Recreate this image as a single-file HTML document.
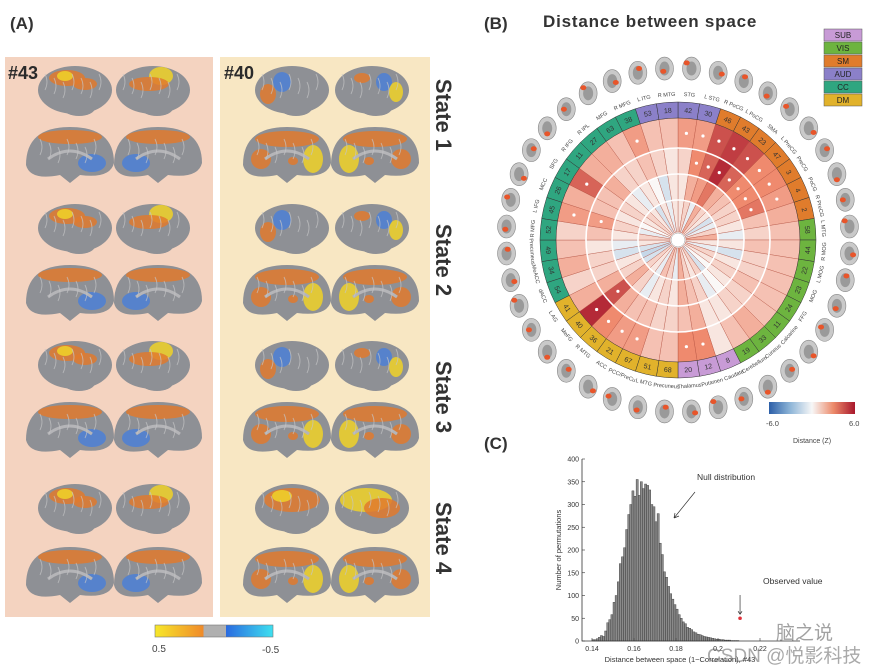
<!DOCTYPE html>
<html><head><meta charset="utf-8"><style>
html,body{margin:0;padding:0;background:#fff;}
svg{display:block;font-family:"Liberation Sans",sans-serif;}
</style></head><body>
<svg id="fig" width="876" height="670" viewBox="0 0 876 670" xmlns="http://www.w3.org/2000/svg">
<g id="panelA">
  <text x="10" y="29" font-size="17" font-weight="bold" fill="#333">(A)</text>
  <rect x="5" y="57" width="208" height="560" fill="#f4d3c0"/>
  <rect x="220" y="57" width="210" height="560" fill="#f8e7c3"/>
  <text x="8" y="79" font-size="18" font-weight="bold" fill="#2a2a2a">#43</text>
  <text x="224" y="79" font-size="18" font-weight="bold" fill="#2a2a2a">#40</text>
  <g id="brains"></g>
  <text transform="translate(436,115) rotate(90)" text-anchor="middle" font-size="22" font-weight="bold" fill="#333">State 1</text>
  <text transform="translate(436,260) rotate(90)" text-anchor="middle" font-size="22" font-weight="bold" fill="#333">State 2</text>
  <text transform="translate(436,397) rotate(90)" text-anchor="middle" font-size="22" font-weight="bold" fill="#333">State 3</text>
  <text transform="translate(436,538) rotate(90)" text-anchor="middle" font-size="22" font-weight="bold" fill="#333">State 4</text>
  <defs>
    <linearGradient id="gA" x1="0" x2="1">
      <stop offset="0" stop-color="#f7e82a"/><stop offset="0.41" stop-color="#f08a2a"/><stop offset="0.41" stop-color="#e4562a"/><stop offset="0.41" stop-color="#b0b0b0"/><stop offset="0.6" stop-color="#b0b0b0"/><stop offset="0.6" stop-color="#2a6ae0"/><stop offset="1" stop-color="#3ee0f0"/>
    </linearGradient>
    <linearGradient id="gB" x1="0" x2="1">
      <stop offset="0" stop-color="#2c5fa8"/><stop offset="0.25" stop-color="#8fb6d8"/><stop offset="0.5" stop-color="#f7f7f7"/><stop offset="0.75" stop-color="#ec8a6a"/><stop offset="1" stop-color="#a8172c"/>
    </linearGradient>
  </defs>
  <rect x="155" y="625" width="118" height="12" fill="url(#gA)" stroke="#777" stroke-width="0.6"/>
  <text x="152" y="652" font-size="10" fill="#444">0.5</text>
  <text x="262" y="653" font-size="10" fill="#444">-0.5</text>
</g>

<g id="panelB">
  <text x="484" y="29" font-size="17" font-weight="bold" fill="#333">(B)</text>
  <text x="543" y="27" font-size="17" font-weight="bold" fill="#333" letter-spacing="0.8">Distance between space</text>
  <g id="legend"></g>
  <g id="thumbs"></g>
  <g id="ring"></g>
  <rect x="769" y="402" width="86" height="12" fill="url(#gB)"/>
  <text x="766" y="426" font-size="7.5" fill="#444">-6.0</text>
  <text x="849" y="426" font-size="7.5" fill="#444">6.0</text>
  <text x="793" y="443" font-size="7" fill="#444">Distance (Z)</text>
</g>

<g id="panelC">
  <text x="484" y="449" font-size="17" font-weight="bold" fill="#333">(C)</text>
  <g id="hist"></g>
</g>
<text x="776" y="639" font-size="19" fill="#555" opacity="0.55" font-family="'Liberation Sans','Noto Sans CJK SC',sans-serif">脑之说</text>
<text x="707" y="662" font-size="19" fill="#555" opacity="0.5" font-family="'Liberation Sans','Noto Sans CJK SC',sans-serif">CSDN @悦影科技</text>
</svg>
<script>
const NS="http://www.w3.org/2000/svg";
function mk(tag,attrs,parent){const e=document.createElementNS(NS,tag);for(const k in attrs)e.setAttribute(k,attrs[k]);parent.appendChild(e);return e;}

// ===== Panel B data =====
const segIds=[42,30,46,43,23,47,3,4,2,58,44,22,23,24,11,33,19,8,12,20,68,51,67,21,36,40,41,54,34,49,52,45,26,17,11,27,63,38,53,18];
const segNet=["AUD","AUD","SM","SM","SM","SM","SM","SM","SM","VIS","VIS","VIS","VIS","VIS","VIS","VIS","VIS","SUB","SUB","SUB","DM","DM","DM","DM","DM","DM","DM","CC","CC","CC","CC","CC","CC","CC","CC","CC","CC","CC","AUD","AUD"];
const segNames=["STG","L STG","R PoCG","L PoCG","SMA","L PreCG","PreCG","PoCG","R PreCG","L MTG","R MOG","L MOG","MOG","FFG","Calcarine","Cuneus","Cerebellum","Caudate","Putamen","Thalamus","Precuneus","L MTG","PCC/PreCu","ACC","R MTG","MeFG","L AG","dACC","MeACC","Precuneus","R MFG","L IFG","MCC","SFG","R IFG","R IPL","MFG","R MFG","L ITG","R MTG"];
const ring1=[2.5,2.5,4.5,5,4.5,3,3,2.5,2,1.5,1.5,1.5,1.5,1.5,1.5,2,1.5,0.5,3,3,1.5,1.5,2.5,2.5,3,5.5,2,1,2,1.5,1,2.5,2,4,2,2,1.5,2.5,1.5,1.5];
const ring2=[1,3,4,5.5,4,3,3,3.5,1.5,1,1.5,1,1,1.5,1,1,0.5,0.5,2,1.5,1,1,1.5,1.5,2,4.5,2,1,1,0.5,1.5,2.5,1.5,1.5,2,1,1,1.5,1,0.5];
const ring3=[0.5,2,2.5,3.5,2,1.5,1,1,0.5,-0.5,0.5,-1,0.5,1,0.5,0,-0.5,1,1.5,2,0.5,1,0.5,-0.5,1,2,1,0.5,-1,-0.5,0.5,1,0.5,1,0.5,-0.5,0.5,0,-1,0.5];
const ring4=[0.5,1,-0.5,2,1,0.5,-1,-0.5,1,2,0.5,-0.5,1,0.5,0,-1,1,0.5,1,2,-0.5,1,1.5,-0.5,0.5,1,-1,-1.5,-1,0.5,1,-0.5,0,0.5,1,0.5,-1,0.5,-0.5,0.5];
const netColors={SUB:"#c89bd6",VIS:"#6db43f",SM:"#e07c2c",AUD:"#8b80c9",CC:"#2fa680",DM:"#e1b22b"};
const legendOrder=["SUB","VIS","SM","AUD","CC","DM"];

const CX=678,CY=240;
function pt(r,deg){const a=deg*Math.PI/180;return [CX+r*Math.sin(a),CY-r*Math.cos(a)];}
function wedge(r0,r1,a0,a1){const p1=pt(r1,a0),p2=pt(r1,a1),p3=pt(r0,a1),p4=pt(r0,a0);
 return `M${p1[0]},${p1[1]}A${r1},${r1} 0 0 1 ${p2[0]},${p2[1]}L${p3[0]},${p3[1]}A${r0},${r0} 0 0 0 ${p4[0]},${p4[1]}Z`;}
function heat(v){const t=Math.max(-1,Math.min(1,v/6));
 const lerp=(a,b,u)=>a.map((x,i)=>Math.round(x+(b[i]-x)*u));
 let c; if(t>=0){c=t<0.5?lerp([250,248,247],[239,138,110],t/0.5):lerp([239,138,110],[168,23,44],(t-0.5)/0.5);}
 else{const u=-t;c=u<0.5?lerp([250,248,247],[143,182,216],u/0.5):lerp([143,182,216],[44,95,168],(u-0.5)/0.5);}
 return `rgb(${c[0]},${c[1]},${c[2]})`;}

const ringG=document.getElementById('ring');
const N=segIds.length, step=360/N;
const rings=[[ring1,92,122],[ring2,66,92],[ring3,40,66],[ring4,8,40]];
rings.forEach((rg,ri)=>{
  rg[0].forEach((v,i)=>{
    const p=mk('path',{d:wedge(rg[1],rg[2],i*step,(i+1)*step),fill:heat(v),stroke:"#b04a3a","stroke-width":0.35},ringG);
    
    
    if(ri<2 && v>=2.5){const c=pt((rg[1]+rg[2])/2,(i+0.5)*step);
      const s=mk('circle',{cx:c[0],cy:c[1],r:1.6,fill:"#fff"},ringG);
      
      }
  });
});
[92,66,40].forEach(r=>{const c=mk('circle',{cx:CX,cy:CY,r:r,fill:"none",stroke:"#fff","stroke-width":1.6},ringG);
 
 });
const hole=mk('circle',{cx:CX,cy:CY,r:7,fill:"#fff",stroke:"#999","stroke-width":0.5},ringG);


segIds.forEach((id,i)=>{
  const p=mk('path',{d:wedge(122,138,i*step,(i+1)*step),fill:netColors[segNet[i]],stroke:"#333","stroke-width":0.5},ringG);
  
  
  const mid=(i+0.5)*step; const c=pt(130,mid); let rot=mid; if(mid>90&&mid<270)rot=mid+180;
  const t=mk('text',{x:c[0],y:c[1]+2.5,"text-anchor":"middle","font-size":7,fill:"#333",transform:`rotate(${rot} ${c[0]} ${c[1]})`},ringG);
  t.textContent=id;
  
  
  const c2=pt(146,mid);
  const t2=mk('text',{x:c2[0],y:c2[1]+2,"text-anchor":"middle","font-size":5.5,fill:"#444",transform:`rotate(${rot} ${c2[0]} ${c2[1]})`},ringG);
  t2.textContent=segNames[i];
  
  
});
// thumbnails
const thG=document.getElementById('thumbs');
segIds.forEach((id,i)=>{
  const mid=(i+0.5)*step; const c=pt(172,mid);
  const g=mk('g',{},thG);
  
  
  mk('ellipse',{cx:c[0],cy:c[1],rx:9,ry:11.5,fill:"#c9c9c9",stroke:"#888","stroke-width":0.6},g);
  mk('ellipse',{cx:c[0],cy:c[1],rx:5,ry:7,fill:"#9a9a9a"},g);
  const dx=((i*7)%9-4)*1.2, dy=((i*5)%9-4)*1.4;
  mk('ellipse',{cx:c[0]+dx,cy:c[1]+dy,rx:3,ry:2.5,fill:"#e8552a"},g);
});
// legend
const lg=document.getElementById('legend');
legendOrder.forEach((n,i)=>{
  const y=29+i*13;
  const r=mk('rect',{x:824,y:y,width:38,height:12,fill:netColors[n],stroke:"#555","stroke-width":0.5},lg);
  
  
  const t=mk('text',{x:843,y:y+9,"text-anchor":"middle","font-size":8,fill:"#222"},lg);
  t.textContent=n;
  
  
});

// ===== Panel C data =====
const binStart=0.140, binWidth=0.001;
const counts=[3,3,5,8,12,10,22,40,47,58,85,100,130,170,185,205,245,278,300,330,318,355,320,350,335,345,342,332,300,295,262,280,215,190,152,140,120,104,92,80,70,58,50,42,38,30,28,25,20,18,15,14,12,10,9,8,7,6,5,4,4,3,3,2,2,2,1,1,1,1];
const xTicks=[0.14,0.16,0.18,0.2,0.22];
const xTickLabels=["0.14","0.16","0.18","0.2","0.22"];
const yTicks=[0,50,100,150,200,250,300,350,400];
const observedValue=0.2105, observedCount=50;

const hg=document.getElementById('hist');
const X=v=>592+(v-0.14)*2100;
const Y=v=>641-v*0.455;
counts.forEach((c,i)=>{
  const x0=X(binStart+i*binWidth);
  const r=mk('rect',{x:x0,y:Y(c),width:binWidth*2100,height:641-Y(c),fill:"#8a8a8a",stroke:"#333","stroke-width":0.4},hg);
  
  
});
const ax=mk('path',{d:`M582,${Y(400)}V641H800`,fill:"none",stroke:"#333","stroke-width":0.8},hg);


yTicks.forEach(v=>{
  mk('line',{x1:582,x2:585,y1:Y(v),y2:Y(v),stroke:"#333","stroke-width":0.6},hg);
  const t=mk('text',{x:579,y:Y(v)+2.5,"text-anchor":"end","font-size":7,fill:"#333"},hg);
  t.textContent=v;
  
  
});
xTicks.forEach((v,i)=>{
  mk('line',{x1:X(v),x2:X(v),y1:641,y2:638,stroke:"#333","stroke-width":0.6},hg);
  const t=mk('text',{x:X(v),y:651,"text-anchor":"middle","font-size":7,fill:"#333"},hg);
  t.textContent=xTickLabels[i];
  
  
});
const yl=mk('text',{transform:"translate(561,550) rotate(-90)","text-anchor":"middle","font-size":7.5,fill:"#333"},hg);
yl.textContent="Number of permutations";


const xl=mk('text',{x:680,y:662,"text-anchor":"middle","font-size":7.5,fill:"#333"},hg);
xl.textContent="Distance between space (1−Correlation), #43";


const nd=mk('text',{x:697,y:480,"font-size":8.5,fill:"#333"},hg);
nd.textContent="Null distribution";


mk('path',{d:"M695,492L674,518M674,518l1,-5M674,518l5,-2",stroke:"#333","stroke-width":0.7,fill:"none"},hg);
const ov=mk('text',{x:763,y:584,"font-size":8.5,fill:"#333"},hg);
ov.textContent="Observed value";


mk('path',{d:`M${X(observedValue)},595V${Y(observedCount)-4}M${X(observedValue)-2},${Y(observedCount)-7}l2,3l2,-3`,stroke:"#333","stroke-width":0.7,fill:"none"},hg);
const od=mk('circle',{cx:X(observedValue),cy:Y(observedCount),r:1.8,fill:"#e0303a"},hg);



// ===== Panel A brains (decorative) =====
const bg=document.getElementById('brains');
const OR="#e07a2e",YE="#f0d228",BL="#4c80d6",GR="#8e9095";
// per brain: [cx,cy,type(L/M),patches:[dx,dy,rx,ry,color]]
const stateY=[[90,155],[228,293],[365,430],[508,575]];
const leftPatch=[[[-8,-12,18,8,OR],[-10,-14,8,5,YE]],[[8,-14,10,8,YE],[0,-8,22,7,OR]],[[0,-14,30,8,OR],[18,6,14,9,BL]],[[0,-14,30,8,OR],[-18,6,14,9,BL]]];
const rightPatch=[[[-12,-8,8,9,BL],[-22,4,8,10,OR]],[[12,-8,8,8,BL],[24,2,7,10,YE]],[[0,-14,30,8,OR],[24,4,10,12,YE],[-24,4,10,10,OR]],[[0,-14,30,8,OR],[-24,4,10,12,YE],[24,4,10,10,OR]]];
function brain(cx,cy,type,patches){
  const g=mk('g',{},bg);
  
  
  if(type==='L'){
    mk('ellipse',{cx:cx,cy:cy,rx:37,ry:24,fill:GR},g);
    mk('ellipse',{cx:cx+4,cy:cy+18,rx:16,ry:8,fill:GR},g);
  }else{
    mk('path',{d:`M${cx-44},${cy+10}Q${cx-44},${cy-28} ${cx},${cy-28}Q${cx+44},${cy-28} ${cx+44},${cy+8}Q${cx+40},${cy+24} ${cx+10},${cy+20}L${cx},${cy+28}L${cx-10},${cy+20}Q${cx-40},${cy+26} ${cx-44},${cy+10}Z`,fill:GR},g);
  }
  patches.forEach(p=>mk('ellipse',{cx:cx+p[0],cy:cy+p[1],rx:p[2],ry:p[3],fill:p[4],opacity:0.85},g));
  if(type==='M') mk('path',{d:`M${cx-22},${cy+4}Q${cx},${cy-12} ${cx+22},${cy+4}`,fill:"none",stroke:"#b5b5b8","stroke-width":3},g);
  for(let k=0;k<7;k++) mk('path',{d:`M${cx-30+k*9},${cy-16+(k%3)*4}q4,8 0,16`,fill:"none",stroke:"#c4c4c6","stroke-width":0.9,opacity:0.7},g);
}
stateY.forEach((sy,s)=>{
  const lp=leftPatch[s%2===0?0:0];
  brain(75,sy[0],'L',[[-8,-12,18,8,OR],[-10,-14,8,5,YE],[10,-6,12,6,OR]]);
  brain(153,sy[0],'L',[[8,-14,12,9,YE],[-4,-6,20,7,OR]]);
  brain(70,sy[1],'M',[[0,-18,32,7,OR],[22,8,14,9,BL]]);
  brain(158,sy[1],'M',[[0,-18,32,7,OR],[-22,8,14,9,BL]]);
  brain(292,sy[0],'L',s===3?[[0,-8,28,12,OR],[-10,-12,10,6,YE]]:[[-10,-8,9,10,BL],[-24,4,8,10,OR]]);
  brain(372,sy[0],'L',s===3?[[-6,-8,26,12,YE],[10,0,18,10,OR]]:[[12,-8,8,9,BL],[24,2,7,10,YE],[-10,-12,8,5,OR]]);
  brain(287,sy[1],'M',[[0,-16,32,8,OR],[26,4,10,14,YE],[-26,4,10,10,OR],[6,6,5,4,OR]]);
  brain(375,sy[1],'M',[[0,-16,32,8,OR],[-26,4,10,14,YE],[26,4,10,10,OR],[-6,6,5,4,OR]]);
});
</script>
</body></html>
